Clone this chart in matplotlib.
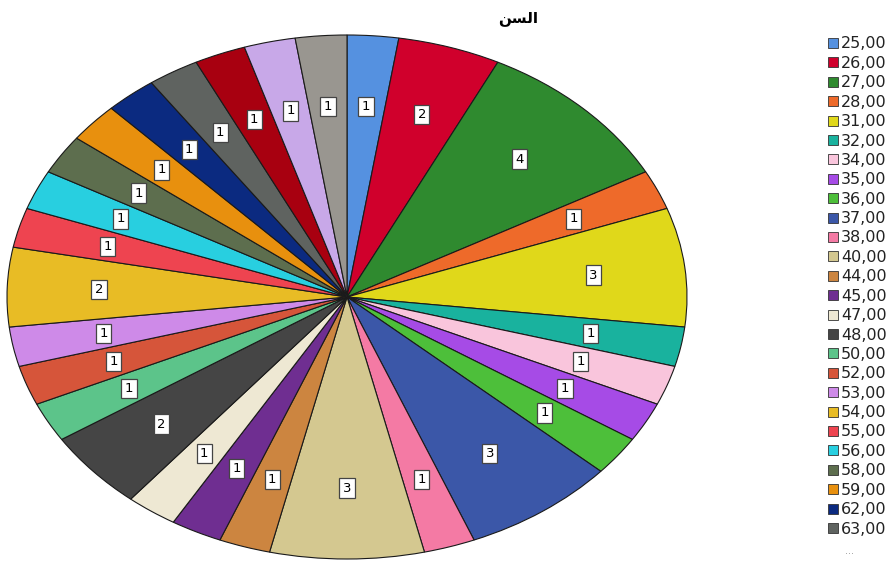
import matplotlib
matplotlib.use("Agg")
import matplotlib.pyplot as plt
from matplotlib.patches import Rectangle

# Daten: Alter (Kategorien) und Anzahl
ages = ["25,00", "26,00", "27,00", "28,00", "31,00", "32,00", "34,00", "35,00",
        "36,00", "37,00", "38,00", "40,00", "44,00", "45,00", "47,00", "48,00",
        "50,00", "52,00", "53,00", "54,00", "55,00", "56,00", "58,00", "59,00",
        "62,00", "63,00", "64,00", "65,00", "66,00"]
counts = [1, 2, 4, 1, 3, 1, 1, 1, 1, 3, 1, 3, 1, 1, 1, 2, 1, 1, 1, 2, 1, 1, 1, 1,
          1, 1, 1, 1, 1]
colors = ["#5591e0", "#d0002c", "#2f8a2f", "#ee6a2a", "#e0d81a", "#19b29e",
          "#f9c5dc", "#a64be6", "#4dbf3a", "#3b57a8", "#f47aa4", "#d4c890",
          "#cc8540", "#6f2e91", "#eee8d3", "#454545", "#5cc48a", "#d6553a",
          "#ce8ae8", "#e8bc25", "#ee4450", "#28cfe0", "#5d6e4e", "#e8900e",
          "#0b2a80", "#5f6360", "#a80010", "#c8a8e8", "#999690"]
shown = 26  # Legende zeigt nur die ersten Einträge, danach "..."

# Titel "السن" (bereits geformt, visuelle Reihenfolge)
title = "\ufee6\ufeb4\ufedf\ufe8d"

W, H = 889, 564
fig = plt.figure(figsize=(W / 100, H / 100), dpi=100)
ax = fig.add_axes([7 / W, 5 / H, 680 / W, 524 / H])

total = sum(counts)
wedges, _, autotexts = ax.pie(
    counts, colors=colors, startangle=90, counterclock=False,
    autopct=lambda p: f"{round(p * total / 100)}", pctdistance=0.73,
    wedgeprops=dict(edgecolor="#1a1a1a", linewidth=0.8, clip_on=False),
    textprops=dict(fontsize=9.5, color="black"))
for t in autotexts:
    t.set_bbox(dict(boxstyle="square,pad=0.25", facecolor="white",
                    edgecolor="#444444", linewidth=0.9))

# Ellipse statt Kreis
ax.set_aspect("auto")
ax.set_xlim(-1, 1)
ax.set_ylim(-1, 1)
ax.axis("off")

fig.text(518 / W, 1 - 18 / H, title, ha="center", va="center",
         fontsize=11, fontweight="bold", family="DejaVu Sans")

# Legende (rechts)
y0, step = 43, 19.4
for i in range(shown):
    y = y0 + i * step
    fig.patches.append(Rectangle((828 / W, 1 - (y + 5) / H), 10 / W, 10 / H,
                                 transform=fig.transFigure, facecolor=colors[i],
                                 edgecolor="#333333", linewidth=0.6))
    fig.text(841 / W, 1 - (y + 1) / H, ages[i], ha="left", va="center",
             fontsize=11.5, color="#222222")
fig.text(850 / W, 1 - 551 / H, "...", ha="center", va="center",
         fontsize=7, color="#999999")

fig.savefig("out.png", dpi=100)
